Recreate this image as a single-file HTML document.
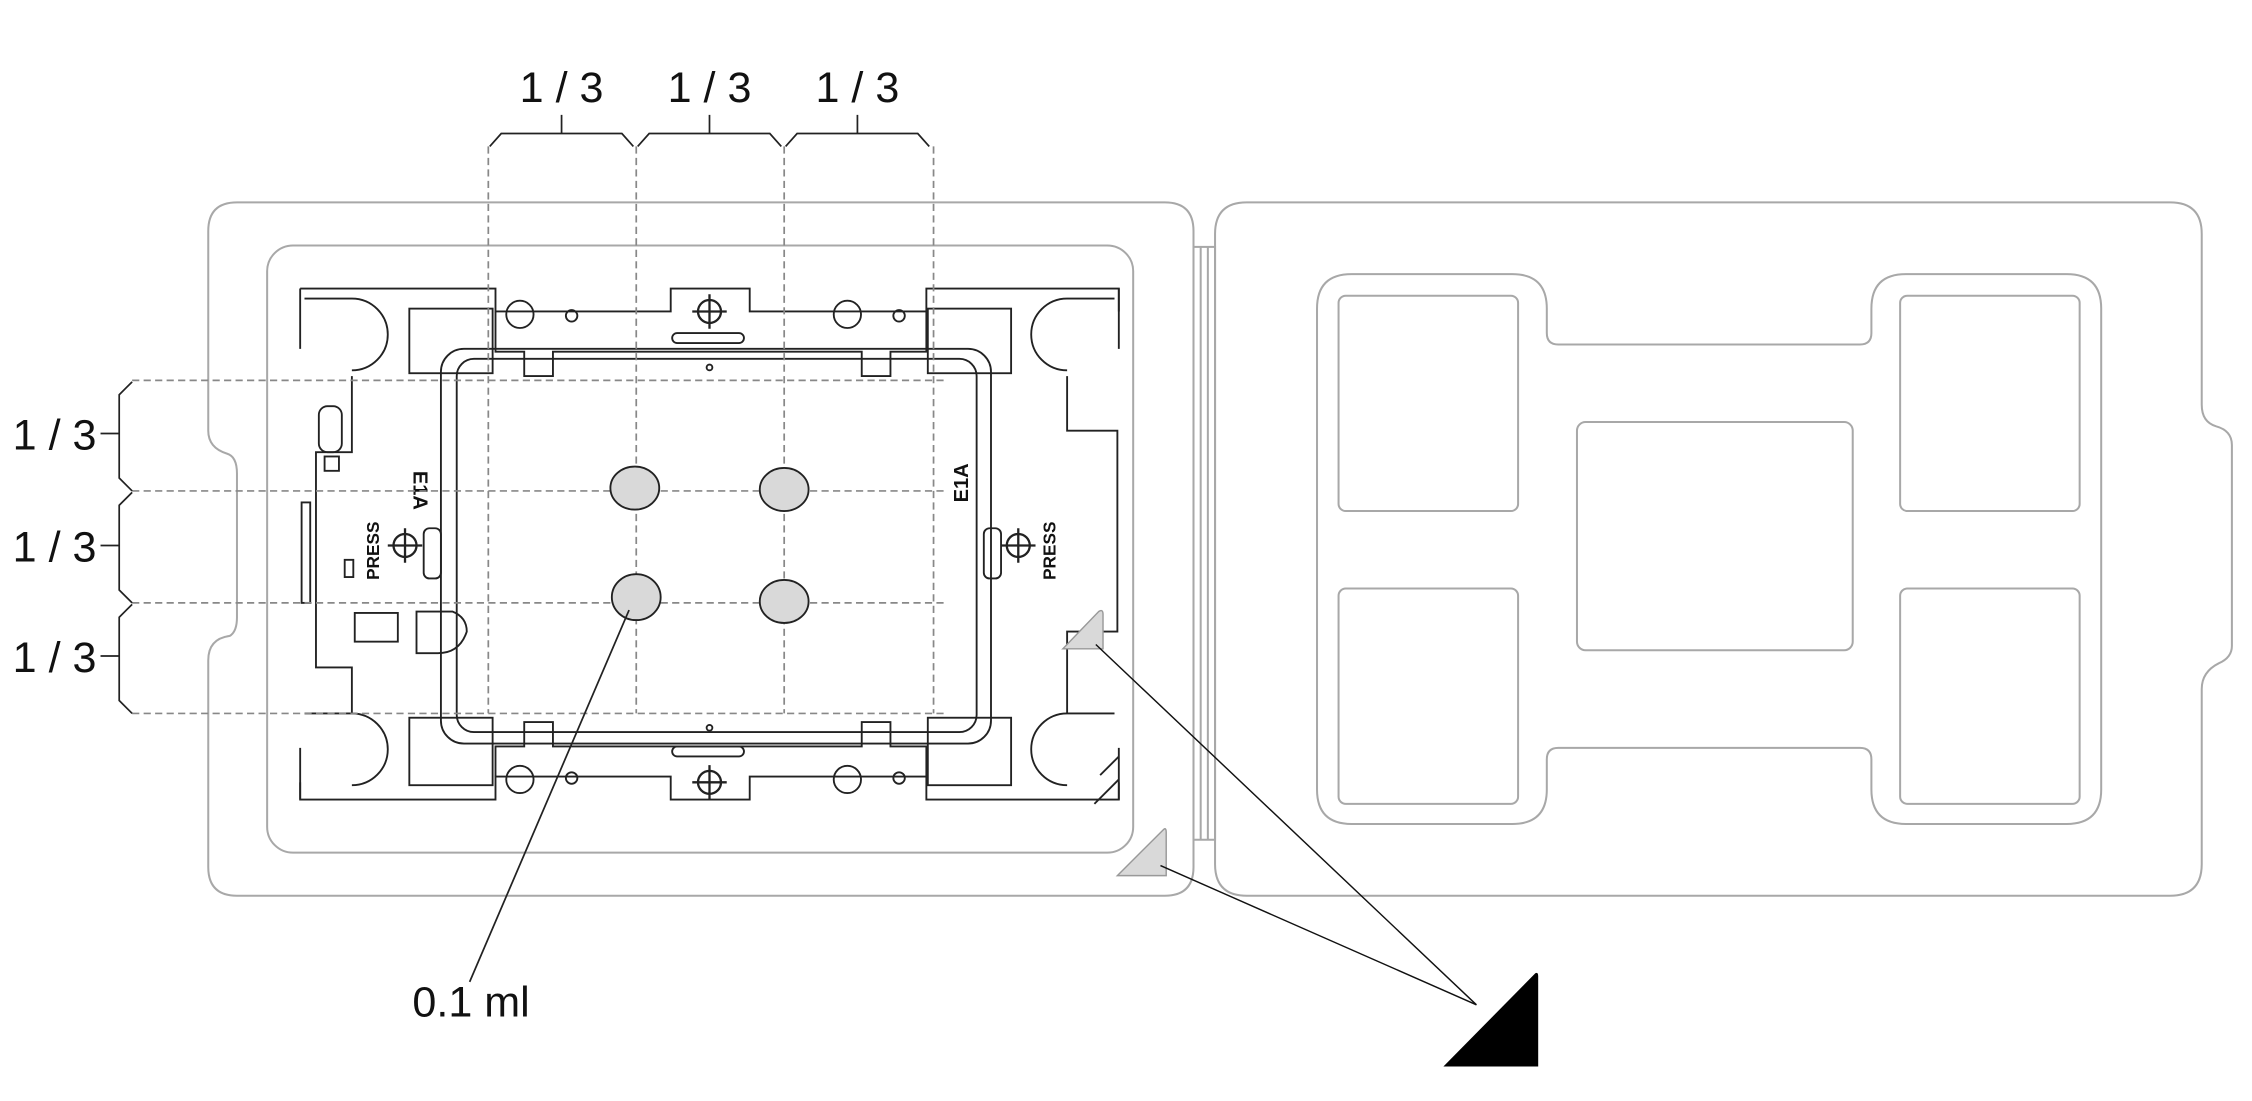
<!DOCTYPE html>
<html><head><meta charset="utf-8"><style>
html,body{margin:0;padding:0;background:#fff;}
svg{display:block;}
text{font-family:"Liberation Sans",sans-serif;}
</style></head><body>
<svg width="2252" height="1101" viewBox="0 0 1568 767" preserveAspectRatio="none" xmlns="http://www.w3.org/2000/svg">
<g fill="none" stroke="#a8a8a8" stroke-width="1.4">
<path d="M165,141 H811 Q831,141 831,161 V604 Q831,624 811,624 H165 Q145,624 145,604 V460 Q145,445 160,443 Q165,440 165,430 V330 Q165,318 158,316 Q145,312 145,300 V161 Q145,141 165,141 Z"/>
<rect x="186" y="171" width="603" height="423" rx="18"/>
<rect x="831" y="172" width="15" height="413"/>
<line x1="836" y1="172" x2="836" y2="585"/><line x1="841" y1="172" x2="841" y2="585"/>
<path d="M868,141 H1511 Q1533,141 1533,163 V282 Q1533,294 1543,297 Q1554,300 1554,310 V450 Q1554,458 1545,462 Q1533,468 1533,480 V602 Q1533,624 1511,624 H868 Q846,624 846,602 V163 Q846,141 868,141 Z"/>
<path d="M941,191 H1053 Q1077,191 1077,215 V232 Q1077,240 1085,240 H1295 Q1303,240 1303,232 V215 Q1303,191 1327,191 H1439 Q1463,191 1463,215 V550 Q1463,574 1439,574 H1327 Q1303,574 1303,550 V529 Q1303,521 1295,521 H1085 Q1077,521 1077,529 V550 Q1077,574 1053,574 H941 Q917,574 917,550 V215 Q917,191 941,191 Z"/>
<rect x="932" y="206" width="125" height="150" rx="5"/>
<rect x="1323" y="206" width="125" height="150" rx="5"/>
<rect x="932" y="410" width="125" height="150" rx="5"/>
<rect x="1323" y="410" width="125" height="150" rx="5"/>
<rect x="1098" y="294" width="192" height="159" rx="6"/>
</g>
<g fill="none" stroke="#222" stroke-width="1.3">
<path d="M209,201 H345 V217 H467 V201 H522 V217 H645 V201 H779 V217 M779,545 V557 H645 V541 H522 V557 H467 V541 H345 V557 H209 V545"/>
<path d="M209,201 V243 M779,201 V243 M209,521 V557 M779,521 V557"/>
<path d="M212,208 H245 A25,25 0 0 1 245,258"/>
<path d="M776,208 H743 A25,25 0 0 0 743,258"/>
<path d="M212,497 H245 A25,25 0 0 1 245,547"/>
<path d="M776,497 H743 A25,25 0 0 0 743,547"/>
<path d="M245,262 V315 H220 V465 H245 V497"/>
<path d="M743,262 V300 H778 V440 H743 V497"/>
<rect x="285" y="215" width="58" height="45"/>
<rect x="646" y="215" width="58" height="45"/>
<rect x="285" y="500" width="58" height="47"/>
<rect x="646" y="500" width="58" height="47"/>
<path d="M345,217 V245 H365 V262 H385 V245 H600 V262 H620 V245 H645 V217"/>
<path d="M345,541 V520 H365 V503 H385 V520 H600 V503 H620 V520 H645 V541"/>
<rect x="307" y="243" width="383" height="275" rx="16"/>
<rect x="318" y="250" width="362" height="260" rx="12"/>
<rect x="222" y="283" width="16" height="32" rx="6"/>
<rect x="226" y="318" width="10" height="10"/>
<rect x="240" y="390" width="6" height="12"/>
<rect x="247" y="427" width="30" height="20"/>
<rect x="210" y="350" width="6" height="70"/>
<rect x="295" y="368" width="12" height="35" rx="4"/>
<rect x="685" y="368" width="12" height="35" rx="4"/>
<path d="M290,426 H315 Q325,430 325,440 Q320,455 305,455 H290 Z"/>
<circle cx="362" cy="219" r="9.5"/><circle cx="590" cy="219" r="9.5"/>
<circle cx="362" cy="543" r="9.5"/><circle cx="590" cy="543" r="9.5"/>
<circle cx="398" cy="220" r="4"/><circle cx="626" cy="220" r="4"/>
<circle cx="398" cy="542" r="4"/><circle cx="626" cy="542" r="4"/>
<circle cx="494" cy="256" r="2"/><circle cx="494" cy="507" r="2"/>
<rect x="468" y="232" width="50" height="7" rx="3.5"/>
<rect x="468" y="520" width="50" height="7" rx="3.5"/>
<path d="M766,540 L779,527 M762,560 L779,543"/>
</g>
<g fill="none" stroke="#222" stroke-width="1.6">
<circle cx="494" cy="217" r="8"/><path d="M494,205 V229 M482,217 H506"/>
<circle cx="494" cy="545" r="8"/><path d="M494,533 V557 M482,545 H506"/>
<circle cx="282" cy="380" r="8"/><path d="M282,368 V392 M270,380 H294"/>
<circle cx="709" cy="380" r="8"/><path d="M709,368 V392 M697,380 H721"/>
</g>
<text transform="translate(264,404) rotate(-90)" font-size="12" font-weight="bold" fill="#111">PRESS</text>
<text transform="translate(735,404) rotate(-90)" font-size="12" font-weight="bold" fill="#111">PRESS</text>
<text transform="translate(288,328) rotate(90)" font-size="14" font-weight="bold" fill="#111">E1A</text>
<text transform="translate(674,350) rotate(-90)" font-size="14" font-weight="bold" fill="#111">E1A</text>
<g stroke="#888" stroke-width="1.2" stroke-dasharray="5,3" fill="none">
<line x1="340" y1="102" x2="340" y2="497"/>
<line x1="443" y1="102" x2="443" y2="497"/>
<line x1="546" y1="102" x2="546" y2="497"/>
<line x1="650" y1="102" x2="650" y2="497"/>
<line x1="92" y1="265" x2="660" y2="265"/>
<line x1="92" y1="342" x2="660" y2="342"/>
<line x1="92" y1="420" x2="660" y2="420"/>
<line x1="92" y1="497" x2="660" y2="497"/>
</g>
<g stroke="#222" stroke-width="1.2" fill="none">
<path d="M341,102 L349,93 H433 L441,102 M391,93 V80"/>
<path d="M444,102 L452,93 H536 L544,102 M494,93 V80"/>
<path d="M547,102 L555,93 H639 L647,102 M597,93 V80"/>
<path d="M92,266 L83,275 V333 L92,342 M83,302 H70"/>
<path d="M92,343 L83,352 V411 L92,420 M83,380 H70"/>
<path d="M92,421 L83,430 V488 L92,497 M83,457 H70"/>
</g>
<g font-size="30" fill="#111" text-anchor="middle">
<text x="391" y="71">1 / 3</text><text x="494" y="71">1 / 3</text><text x="597" y="71">1 / 3</text>
<text x="38" y="313">1 / 3</text><text x="38" y="391">1 / 3</text><text x="38" y="468">1 / 3</text>
<text x="328" y="708">0.1 ml</text>
</g>
<g fill="#d9d9d9" stroke="#222" stroke-width="1.3">
<ellipse cx="442" cy="340" rx="17" ry="15"/>
<ellipse cx="546" cy="341" rx="17" ry="15"/>
<ellipse cx="443" cy="416" rx="17" ry="16"/>
<ellipse cx="546" cy="419" rx="17" ry="15"/>
</g>
<line x1="438" y1="425" x2="327" y2="684" stroke="#222" stroke-width="1.2"/>
<path d="M740,452 L765,426 Q768,424 768,428 V452 Z" fill="#d9d9d9" stroke="#999" stroke-width="1"/>
<path d="M778,610 L810,578 Q812,576 812,580 V610 Z" fill="#d9d9d9" stroke="#999" stroke-width="1"/>
<line x1="763" y1="449" x2="1028" y2="700" stroke="#111" stroke-width="1"/>
<line x1="808" y1="603" x2="1028" y2="700" stroke="#111" stroke-width="1"/>
<path d="M1005,743 L1069,678 Q1071,677 1071,680 V743 Z" fill="#000"/>
</svg>
</body></html>
